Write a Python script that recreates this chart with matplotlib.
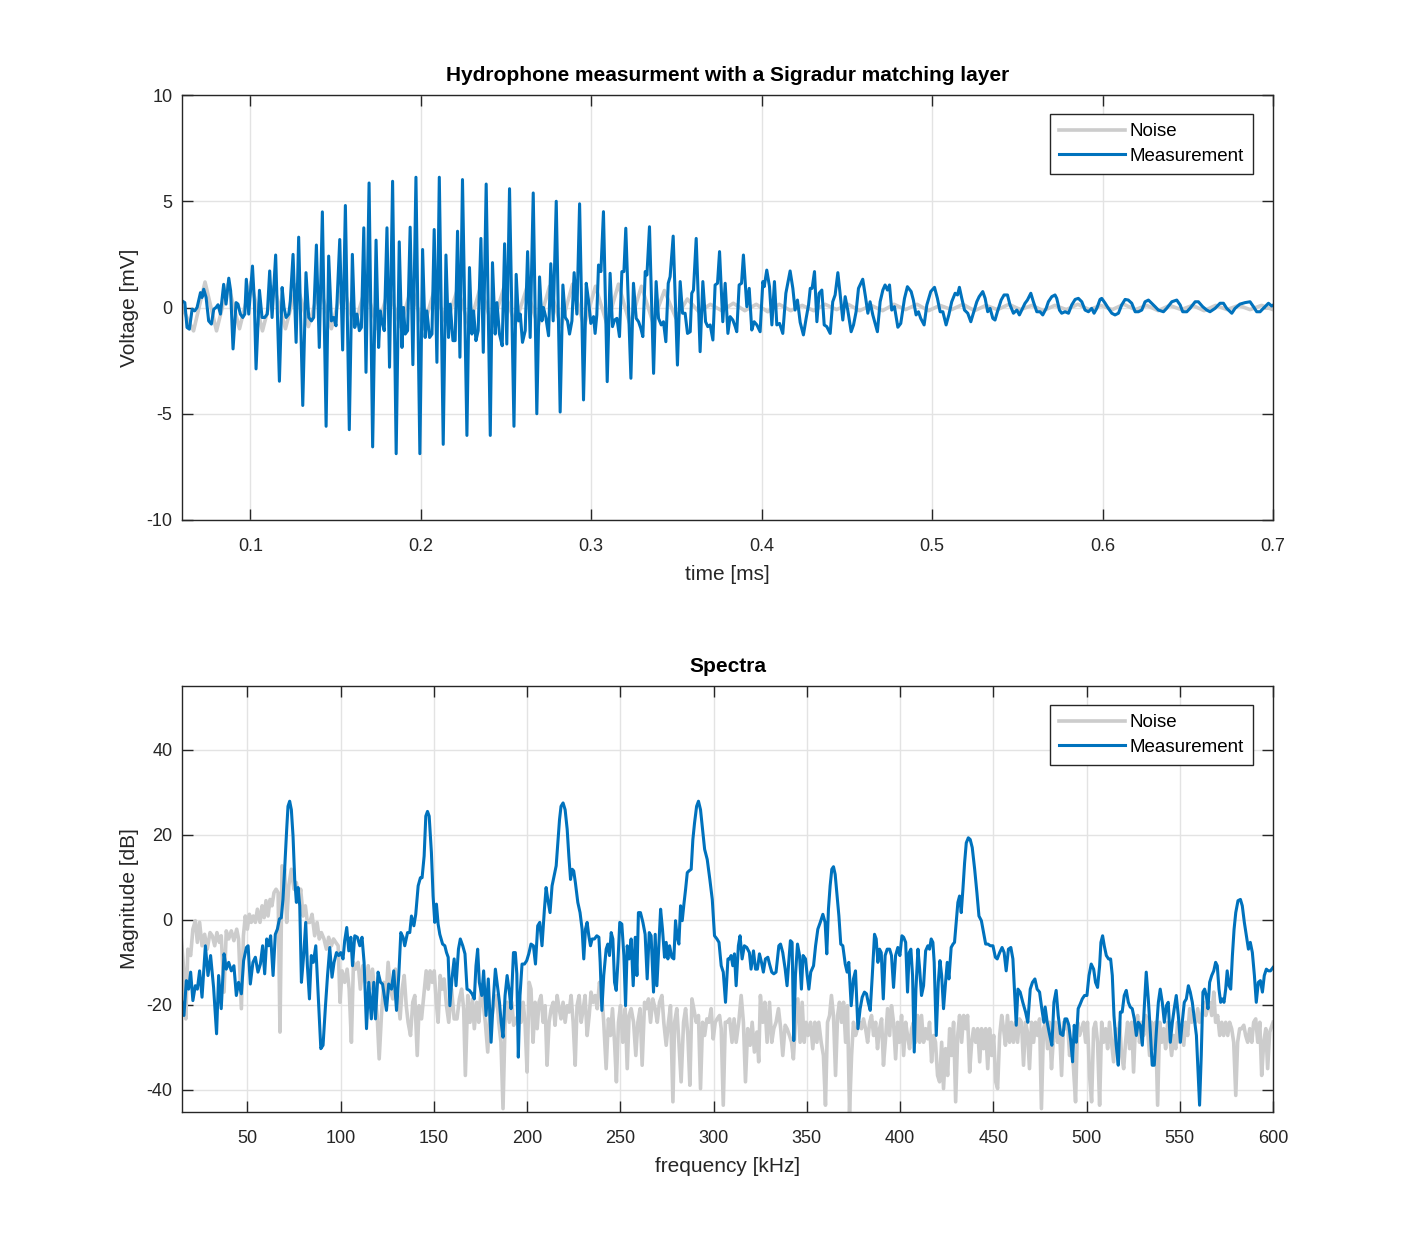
import numpy as np
import matplotlib
matplotlib.use('Agg')
import matplotlib.pyplot as plt

plt.rcParams['font.family'] = ['Liberation Sans', 'DejaVu Sans']
plt.rcParams['axes.unicode_minus'] = False

# time signal, measurement (t [ms], U [mV])
meas_pts = [
    (0.0600, 0.31), (0.0616, 0.23), (0.0629, -0.94), (0.0643, -1.02), (0.0659, -0.08), (0.0674, -0.16),
    (0.0688, 0.0), (0.0708, 0.70), (0.0717, 0.47), (0.0727, 0.86), (0.0741, 0.47), (0.0756, -0.63),
    (0.0772, -0.78), (0.0786, -0.08), (0.0799, 0.0), (0.0811, 0.13), (0.0825, -0.31), (0.0844, 1.09),
    (0.0858, 0.16), (0.0874, 1.38), (0.0885, 0.78), (0.0899, -1.95), (0.0917, 0.23), (0.0928, 0.16),
    (0.0942, -0.31), (0.0956, -0.47), (0.0968, -0.31), (0.0977, 1.33), (0.0991, -0.31), (0.1013, 1.95),
    (0.1024, 0.31), (0.1034, -2.89), (0.1054, 0.81), (0.1069, -0.47), (0.1085, -0.47), (0.1100, -0.31),
    (0.1114, 1.72), (0.1128, -0.47), (0.1149, 2.47), (0.1171, -3.47), (0.1187, 0.94), (0.1198, 0.0),
    (0.1210, -0.47), (0.1226, -0.31), (0.1235, 0.31), (0.1251, 2.5), (0.1269, -1.64), (0.1284, 3.31),
    (0.1308, -4.61), (0.1327, 1.64), (0.1343, -0.47), (0.1359, -0.63), (0.1372, -0.47), (0.1388, 2.94),
    (0.1405, -1.88), (0.1423, 4.5), (0.1445, -5.59), (0.1460, 2.42), (0.1476, -0.63), (0.1490, -0.47),
    (0.1503, -0.86), (0.1525, 3.2), (0.1542, -2.0), (0.1558, 4.8), (0.1581, -5.75), (0.1599, 2.5),
    (0.1613, -0.94), (0.1626, -0.31), (0.1640, -1.09), (0.1652, -0.94), (0.1666, 3.75), (0.1679, -3.05),
    (0.1697, 5.86), (0.1718, -6.56), (0.1738, 3.17), (0.1753, -1.88),
    (0.1763, -0.16), (0.1772, -0.63), (0.1786, -1.09), (0.1802, 3.75), (0.1817, -2.81), (0.1835, 5.94),
    (0.1856, -6.88), (0.1874, 3.09), (0.1890, -1.88), (0.1899, 0.0), (0.1909, -1.25), (0.1923, -1.09),
    (0.1938, 3.78), (0.1954, -2.69), (0.1972, 6.13), (0.1995, -6.88), (0.2011, 2.73), (0.2026, -1.41),
    (0.2036, -0.16), (0.2052, -1.41), (0.2066, -1.25), (0.2079, 3.67), (0.2095, -2.58), (0.2109, 6.13),
    (0.2132, -6.44), (0.2148, 2.47), (0.2163, -1.41), (0.2173, 0.16), (0.2189, -1.56), (0.2202, -1.56),
    (0.2216, 3.59), (0.2230, -2.34), (0.2245, 6.02), (0.2271, -6.02), (0.2286, 1.88), (0.2300, -1.25),
    (0.2310, -0.16), (0.2324, -1.56), (0.2337, -1.09), (0.2353, 3.25), (0.2367, -2.11), (0.2384, 5.81),
    (0.2408, -6.02), (0.2421, 2.11), (0.2437, -1.25), (0.2447, 0.23), (0.2462, -1.25), (0.2478, -1.8),
    (0.2492, 3.0), (0.2505, -1.72), (0.2521, 5.59), (0.2547, -5.59), (0.2560, 1.56), (0.2574, -0.63),
    (0.2584, -0.31), (0.2597, -1.64), (0.2613, -1.09), (0.2627, 2.63), (0.2642, -1.41), (0.2660, 5.39),
    (0.2681, -5.0), (0.2697, 1.44), (0.2711, -0.63), (0.2720, 0.0), (0.2734, -0.47), (0.2750, -1.33),
    (0.2763, 2.06), (0.2777, -0.63), (0.2795, 5.0), (0.2818, -4.92), (0.2834, 1.06), (0.2848, -0.47),
    (0.2861, -0.63), (0.2873, -1.25), (0.2887, -0.63), (0.2900, 1.64), (0.2916, -0.31), (0.2932, 4.88),
    (0.2955, -4.35), (0.2971, 1.14), (0.2984, 0.35), (0.2998, -0.75), (0.3014, -0.43), (0.3023, -1.22),
    (0.3033, -0.35), (0.3043, 2.0), (0.3057, 1.69), (0.3072, 4.51), (0.3094, -3.49), (0.3111, 1.61),
    (0.3125, -0.9), (0.3137, -0.59), (0.3151, -0.51), (0.3166, -1.37), (0.3180, 1.69), (0.3192, 1.69),
    (0.3203, 3.73), (0.3233, -3.33), (0.3248, 1.14), (0.3264, -0.51), (0.3278, -0.67), (0.3291, -0.98),
    (0.3303, -1.37), (0.3317, 1.69), (0.3327, 1.53), (0.3342, 3.8), (0.3366, -3.1), (0.3381, 1.22),
    (0.3395, -0.51), (0.3411, -0.82), (0.3424, -0.67), (0.3438, -1.61), (0.3452, 1.14), (0.3463, 1.45),
    (0.3481, 3.36), (0.3506, -2.71), (0.3522, 1.22), (0.3536, -0.27), (0.3551, -0.27), (0.3565, -1.22),
    (0.3581, -1.14), (0.3590, 0.67), (0.3600, 0.82), (0.3616, 3.25), (0.3639, -2.08), (0.3655, 1.22),
    (0.3671, -0.67), (0.3684, -0.9), (0.3698, -0.82), (0.3714, -1.53), (0.3727, 1.06), (0.3741, 1.14),
    (0.3753, 2.63), (0.3772, -0.67), (0.3786, 1.14), (0.3802, -1.22), (0.3815, -0.43), (0.3831, -0.59),
    (0.3845, -0.9), (0.3854, -1.14), (0.3868, 1.06), (0.3882, 1.14), (0.3893, 2.47), (0.3913, 0.04),
    (0.3927, 0.9), (0.3942, -1.06), (0.3956, -0.67), (0.3972, -0.82), (0.3991, -1.14), (0.4007, 1.22),
    (0.4015, 0.98), (0.4030, 1.76), (0.4046, 0.98), (0.4060, -0.82), (0.4075, 1.22), (0.4089, -0.82),
    (0.4105, -0.75), (0.4124, -1.22), (0.4142, 0.67), (0.4153, 1.14), (0.4167, 1.72), (0.4183, 0.9),
    (0.4196, -0.12), (0.4210, 0.35), (0.4226, -0.7),
    (0.4245, -1.29), (0.4261, -0.51), (0.4275, 0.12), (0.4285, 0.9), (0.4296, 0.9), (0.4310, 1.69),
    (0.4324, -0.67), (0.4337, 0.67), (0.4353, 0.82), (0.4367, -0.82), (0.4382, -0.9), (0.4402, -1.22),
    (0.4417, 0.27), (0.4431, 0.59), (0.4447, 1.64), (0.4460, 0.67), (0.4476, -0.59), (0.4490, 0.51),
    (0.4505, -0.12), (0.4525, -1.14), (0.4539, -0.82), (0.4554, -0.2), (0.4568, 0.9), (0.4582, 1.14),
    (0.4593, 1.33), (0.4609, 0.51), (0.4623, -0.27), (0.4636, 0.27), (0.4652, -0.35), (0.4679, -1.14),
    (0.4695, 0.27), (0.4711, 0.82), (0.4724, 1.06), (0.4738, 0.82), (0.4750, 1.06), (0.4763, -0.12),
    (0.4779, 0.04), (0.4799, -0.93), (0.4816, -0.75), (0.4838, 0.43), (0.4855, 0.98), (0.4877, 0.75),
    (0.4890, 0.35), (0.4906, -0.35), (0.4920, -0.2), (0.4933, -0.51), (0.4953, -0.82), (0.4969, 0.12),
    (0.4992, 0.75), (0.5014, 0.95), (0.5031, 0.43), (0.5047, -0.2), (0.5063, -0.2), (0.5082, -0.82),
    (0.5098, -0.35), (0.5115, 0.27), (0.5135, 0.67), (0.5149, 0.59), (0.5160, 0.95), (0.5174, 0.43),
    (0.5190, -0.12), (0.5209, -0.27), (0.5227, -0.67), (0.5242, -0.27), (0.5262, 0.27), (0.5276, 0.51),
    (0.5297, 0.75), (0.5311, 0.43), (0.5326, -0.2), (0.5340, -0.04), (0.5356, -0.51), (0.5369, -0.59),
    (0.5383, -0.2), (0.5405, 0.35), (0.5422, 0.59), (0.5442, 0.59), (0.5457, 0.12), (0.5477, -0.27),
    (0.5497, -0.12), (0.5512, -0.35), (0.5526, -0.12), (0.5545, 0.2), (0.5559, 0.35), (0.5579, 0.67),
    (0.5594, 0.27), (0.5614, -0.2), (0.5633, -0.2),
    (0.5649, -0.35), (0.5669, -0.04), (0.5682, 0.27), (0.5702, 0.51), (0.5721, 0.59), (0.5731, 0.43),
    (0.5747, -0.12), (0.5760, -0.27), (0.5780, -0.2), (0.5800, -0.27), (0.5819, 0.12), (0.5839, 0.38),
    (0.5858, 0.43), (0.5878, 0.27), (0.5897, -0.12), (0.5917, -0.2), (0.5936, -0.04), (0.5950, -0.27),
    (0.5966, -0.04), (0.5985, 0.38), (0.5995, 0.43), (0.6015, 0.2), (0.6034, -0.04), (0.6054, -0.27),
    (0.6073, -0.35), (0.6093, -0.27), (0.6112, 0.12), (0.6132, 0.38), (0.6151, 0.35), (0.6171, 0.2),
    (0.6191, -0.2), (0.6210, -0.2), (0.6230, -0.12), (0.6249, 0.27), (0.6269, 0.35), (0.6288, 0.2),
    (0.6308, 0.04), (0.6327, -0.12), (0.6357, -0.2), (0.6376, -0.04), (0.6406, 0.27), (0.6435, 0.35),
    (0.6455, 0.12), (0.6470, -0.2), (0.6494, -0.2), (0.6513, -0.04), (0.6543, 0.27), (0.6562, 0.27),
    (0.6587, 0.04), (0.6611, -0.12), (0.6630, -0.2), (0.6660, -0.04), (0.6689, 0.2), (0.6709, 0.2),
    (0.6728, -0.04), (0.6758, -0.27), (0.6777, -0.04), (0.6806, 0.16), (0.6836, 0.23), (0.6865, 0.27),
    (0.6885, 0.04), (0.6904, -0.2), (0.6924, -0.2), (0.6943, -0.04), (0.6973, 0.2), (0.6992, 0.07),
    (0.7002, 0.12),
]

# noise signal, sampled at its extrema, 0.06 ... 0.70 ms
noise_v = [
    0.0, -1.1, 1.2, -1.1, 1.1, -1.0, 1.2, -1.1, 1.0, -1.0, 1.1, -0.9, 1.0, -1.0, 1.1, -0.9, 1.0,
    -1.0, 0.9, -0.9, 1.0, -1.0, 0.9, -0.8, 0.9, -0.9, 1.0, -0.9, 0.9, -0.8, 0.9, -0.9, 1.0,
    -0.9, 1.1, -0.9, 1.0, -0.8, 1.1, -0.8, 1.0, -0.7, 0.8, -0.5, 0.4,
    -0.2, 0.15, -0.15, 0.2, -0.15, 0.15, -0.2, 0.15, -0.15, 0.1, -0.15, 0.15, -0.1, 0.15,
    -0.15, 0.1, -0.15, 0.15, -0.1, 0.15, -0.15, 0.1, -0.1, 0.15, -0.15, 0.1, -0.1, 0.15,
    -0.1, 0.1, -0.15, 0.1, -0.1, 0.15, -0.1, 0.1, -0.1, 0.15, -0.1, 0.1, -0.15, 0.1, -0.1,
    0.1, -0.15, 0.1, -0.1, 0.1, -0.1, 0.1, -0.1,
]

# spectrum of the measurement (f [kHz], dB)
spec_meas = [
    (14.6, -18.6), (16.0, -22.5), (17.3, -14.3), (18.5, -16.3), (19.6, -12.3), (20.8, -19.0), (22.1, -15.5),
    (23.2, -16.3), (24.4, -12.0), (25.7, -18.2), (27.5, -6.1), (28.9, -13.1), (30.3, -8.4), (31.9, -15.9),
    (33.5, -26.8), (34.6, -13.1), (36.0, -20.9), (37.5, -8.0), (38.7, -11.6), (40.0, -10.0), (41.4, -12.0),
    (42.8, -10.8), (44.1, -17.8), (45.3, -14.7), (46.8, -17.4), (48.0, -9.6), (49.5, -6.5), (50.4, -6.1),
    (51.6, -15.1), (53.0, -10.0), (54.3, -8.8), (55.7, -12.3), (57.0, -10.4), (58.2, -6.1), (59.3, -12.7),
    (60.4, -4.5), (61.4, -6.1), (62.5, -3.75), (63.8, -13.1), (65.0, -3.4), (66.1, -2.2), (67.2, 0.2),
    (68.2, 0.5), (69.1, 4.8), (70.0, 11.9), (71.1, 21.3), (71.8, 26.7), (72.7, 27.9), (73.6, 25.9),
    (74.5, 19.7), (75.4, 9.5), (76.3, 4.1), (77.2, 7.6), (78.1, 3.3), (79.0, -14.7), (80.2, -8.4),
    (81.3, -0.6), (82.2, -10.8), (83.3, -18.6), (84.3, -8.4), (85.4, -10.0), (86.7, -6.1), (87.9, -17.0),
    (89.4, -30.3), (90.6, -29.5), (91.9, -20.2), (93.0, -13.1), (94.2, -6.5), (95.4, -13.5), (96.5, -10.0),
    (97.8, -7.7), (99.0, -8.4), (100.1, -7.7), (101.3, -9.2), (102.2, -4.9), (103.3, -1.8), (104.4, -7.3),
    (105.5, -4.1), (106.4, -10.8), (107.6, -3.75), (109.0, -4.1), (110.3, -6.1), (111.5, -4.1), (112.6, -10.0),
    (113.9, -25.6), (115.1, -14.7), (116.5, -23.3), (117.8, -14.7), (118.7, -23.3), (120.1, -12.3),
    (121.4, -14.7), (122.5, -15.1), (123.7, -18.6), (124.6, -21.3), (125.8, -15.1), (127.3, -16.3),
    (128.5, -12.0), (130.0, -21.3), (131.2, -13.1), (132.3, -3.0), (133.5, -4.1), (134.4, -6.1), (135.9, -3.0),
    (137.1, -3.0), (138.0, 0.9), (139.3, -1.4), (140.3, 1.3), (141.6, 8.0), (142.8, 9.9), (143.7, 9.9),
    (144.8, 15.0), (145.7, 24.4), (146.6, 25.5), (147.5, 24.4), (148.7, 15.8), (149.6, 5.6), (150.5, -0.6),
    (151.4, 3.7), (152.3, -1.0), (153.2, -3.4), (154.7, -5.7), (155.9, -6.1), (156.8, -7.7), (157.7, -8.8),
    (158.6, -20.2), (159.8, -13.5), (160.9, -9.2),
    (161.9, -15.5), (163.2, -6.9), (164.2, -4.5), (165.5, -6.1), (166.7, -8.0), (167.8, -16.3), (169.1, -16.6),
    (170.5, -17.4), (171.7, -18.6), (172.6, -10.8), (173.5, -6.9), (174.4, -14.7), (175.7, -17.8), (176.7, -12.0),
    (178.0, -22.5), (179.2, -13.9), (180.7, -28.8), (181.8, -19.4), (183.0, -11.6), (184.3, -16.3), (185.2, -19.4),
    (186.1, -24.1), (187.1, -27.6), (188.2, -17.8), (189.3, -13.1), (190.5, -17.0), (191.4, -20.9), (192.7, -7.7),
    (193.7, -7.7), (194.5, -12.7), (195.3, -32.3), (196.2, -17.8), (197.3, -10.4), (198.6, -10.4), (199.8, -9.6),
    (200.9, -8.0), (202.1, -5.7), (203.4, -6.1), (204.5, -10.4), (205.7, -1.4), (206.8, -0.6), (208.0, -6.1),
    (209.3, 2.5), (210.2, 7.6), (211.1, 4.8), (212.3, 1.7), (213.4, 8.0), (214.3, 9.9), (215.6, 12.7),
    (216.5, 18.1), (217.4, 23.6), (218.2, 26.7), (219.3, 27.5), (220.4, 25.9), (221.5, 21.3), (222.4, 15.0),
    (223.3, 9.5), (224.2, 11.9), (225.0, 11.5), (225.9, 8.75), (227.2, 4.1), (228.4, 1.7), (229.5, -2.2),
    (230.4, -9.2), (231.3, -2.2), (232.2, -0.6), (233.1, -3.75), (234.0, -6.1), (234.9, -4.5), (236.1, -4.5),
    (237.4, -3.75), (238.5, -4.1), (239.2, -10.0), (240.1, -21.3), (241.1, -13.1), (242.4, -6.9), (243.3, -5.7),
    (244.2, -8.4), (245.1, -3.0), (246.0, -4.5), (246.9, -14.7), (247.8, -16.6), (248.7, -10.0), (249.7, -0.6),
    (250.8, -1.0), (251.9, -8.4), (252.8, -20.2), (253.7, -6.1), (254.7, -9.2), (255.8, -4.5), (256.9, -15.5),
    (258.0, -4.1), (258.9, -13.1), (259.7, 1.7), (260.8, 1.7), (262.1, -0.6), (263.3, -3.4), (264.4, -13.9),
    (265.5, -3.0), (266.5, -3.75), (267.8, -17.0), (268.7, -3.4), (269.6, -15.5), (270.7, -5.3), (271.6, 2.5),
    (272.6, -2.2), (273.7, -8.8), (274.6, -5.3), (275.5, -9.2), (276.4, -6.1), (277.6, -8.8), (278.7, -9.2),
    (279.6, -0.2), (280.5, -4.1), (281.4, -5.7), (282.3, 3.3), (283.2, -0.2), (284.1, 3.7), (285.0, 7.2),
    (285.9, 11.1), (286.8, 11.5), (288.0, 11.9), (288.9, 18.9), (289.8, 22.8), (290.9, 26.7), (291.9, 27.9),
    (293.0, 25.9), (294.1, 21.3), (295.2, 16.6), (296.6, 14.2), (298.0, 9.5), (299.3, 4.8), (300.5, -3.75),
    (301.8, -4.5), (302.9, -5.3), (304.1, -10.8), (305.2, -12.3), (306.4, -19.4), (307.7, -9.2),
    (308.5, -9.2), (309.4, -8.4), (310.3, -10.8), (311.2, -8.0), (312.1, -15.5), (313.3, -6.1), (314.2, -3.75),
    (315.3, -9.2), (316.5, -6.1), (317.8, -6.5), (319.2, -7.7), (320.1, -11.6), (321.4, -7.3), (322.5, -11.6),
    (323.5, -11.6), (324.6, -8.0), (325.7, -10.0), (326.7, -12.3), (327.8, -9.2), (329.1, -8.8), (330.0, -10.4),
    (331.2, -12.3), (332.3, -12.7), (333.5, -12.3), (335.0, -6.1), (335.9, -5.7), (337.1, -7.7), (338.4, -11.6),
    (339.4, -15.5), (340.3, -10.0), (341.2, -4.9), (342.1, -5.3), (343.0, -28.4), (343.9, -13.1), (345.0, -5.7),
    (346.1, -8.4), (347.1, -16.3), (348.0, -8.4), (349.3, -9.2), (350.2, -13.1), (351.1, -16.3), (352.1, -12.3),
    (353.6, -10.8), (354.7, -6.1), (355.9, -2.2), (357.2, -0.6), (358.6, 1.3), (359.8, -0.6), (360.7, -8.0),
    (361.6, 2.5), (362.5, 8.0), (363.4, 11.9), (364.3, 12.5), (365.2, 10.7), (366.1, 6.4), (367.2, 0.9),
    (368.2, -5.7), (369.3, -6.1), (370.6, -10.4), (371.6, -12.3), (372.5, -10.0), (373.8, -20.2), (375.0, -13.9),
    (376.1, -12.0), (377.4, -25.6), (378.6, -20.9), (379.7, -18.2), (380.9, -17.0), (382.0, -17.4), (382.9, -19.4),
    (384.0, -21.3), (385.1, -13.1), (386.3, -3.4), (387.2, -4.5), (388.1, -10.0), (389.0, -6.9), (389.9, -7.7),
    (391.0, -18.6), (392.0, -8.4), (393.1, -6.9), (394.4, -6.9), (395.4, -8.4), (396.5, -15.9), (397.6, -8.4),
    (398.8, -6.5), (399.9, -8.4), (401.0, -3.75), (401.9, -4.1), (403.0, -5.3), (404.0, -17.0), (404.9, -7.7),
    (405.8, -6.9), (406.7, -13.1), (407.6, -31.1), (408.5, -16.3), (409.6, -6.9), (410.5, -11.6), (411.5, -17.8),
    (412.6, -15.5), (413.7, -7.3), (414.9, -6.1), (415.8, -6.9), (416.7, -4.5), (417.6, -5.3), (418.3, -10.0),
    (419.4, -27.2), (420.5, -14.7), (421.4, -9.6), (422.3, -13.1), (423.3, -20.9), (424.4, -14.7), (425.3, -10.0),
    (426.2, -13.9), (427.4, -6.5), (428.4, -5.7), (429.2, -5.3), (430.1, -0.6), (431.0, 4.1), (431.9, 5.6),
    (432.8, 1.7), (433.7, 7.2), (434.6, 13.4), (435.5, 18.1), (436.6, 19.3), (437.6, 18.9), (438.7, 17.0),
    (440.0, 11.9), (441.2, 6.4), (442.3, 0.9), (443.6, -0.2), (444.8, -3.0), (445.9, -5.7), (447.1, -5.7),
    (448.4, -6.1), (449.8, -6.1), (451.1, -8.8), (452.1, -9.2), (453.4, -7.7),
    (454.7, -6.5), (455.8, -7.7), (456.9, -12.0), (458.1, -6.9), (459.4, -6.5), (460.5, -9.2), (461.4, -17.0),
    (462.3, -24.8), (463.2, -16.3), (464.4, -17.0), (465.8, -19.4), (467.3, -21.7), (468.5, -24.1), (469.8, -16.3),
    (471.0, -14.7), (472.3, -13.9), (473.5, -16.3), (474.8, -17.0), (476.0, -20.9), (477.1, -24.1), (477.8, -20.5),
    (478.9, -24.1), (480.1, -26.8), (481.4, -29.5), (482.5, -19.4), (483.7, -16.6), (484.8, -22.5), (486.0, -26.8),
    (487.3, -27.2), (488.4, -23.3), (489.4, -23.3), (490.5, -24.8), (491.6, -28.8), (492.5, -33.4), (493.4, -24.8),
    (494.5, -28.8), (495.5, -20.9), (496.6, -19.8), (497.7, -18.6), (498.9, -17.8), (500.2, -17.8), (501.3, -13.1),
    (502.5, -10.4), (503.8, -11.6), (504.8, -14.7), (505.9, -15.9), (507.0, -10.8), (507.7, -5.3), (508.6, -3.75),
    (509.5, -6.1), (510.6, -8.4), (511.8, -9.2), (512.9, -9.2), (513.8, -13.1), (514.7, -22.5), (515.9, -29.5),
    (517.0, -34.2), (518.1, -21.7), (519.1, -21.7), (520.2, -17.8), (521.3, -16.6), (522.4, -19.4), (523.4, -20.5),
    (524.5, -20.9), (525.6, -23.3), (526.7, -27.2), (527.7, -24.1), (528.8, -24.8), (529.9, -29.5), (531.0, -20.2),
    (532.0, -12.3), (533.1, -18.6), (534.2, -26.4), (535.2, -34.2), (536.3, -34.2), (537.4, -26.4), (538.5, -19.4),
    (539.5, -16.3), (540.6, -19.4), (541.7, -24.1), (542.8, -20.2), (543.8, -19.4), (544.9, -28.8), (546.0, -24.1),
    (547.0, -20.9), (548.1, -17.8), (549.2, -22.5), (550.3, -28.8), (551.3, -24.1), (552.4, -19.4), (553.5, -18.6),
    (554.6, -15.5), (555.6, -17.0), (556.7, -19.4), (557.8, -23.3), (558.9, -27.2), (559.9, -36.6), (560.6, -43.6),
    (561.5, -31.9), (562.4, -17.0), (563.3, -16.3), (564.2, -17.8), (565.1, -20.9), (566.0, -14.7), (567.1, -13.1),
    (568.2, -12.0), (569.2, -10.0), (570.1, -10.8), (571.0, -16.3), (571.9, -19.4), (572.8, -18.6), (573.7, -19.4),
    (574.6, -16.3), (575.4, -12.0), (576.4, -15.5), (577.3, -16.3), (578.2, -8.4), (579.1, -2.2), (580.0, 1.7),
    (581.2, 4.5), (582.5, 4.8), (583.5, 3.3), (584.6, -0.6), (585.7, -3.75), (586.8, -6.9), (587.8, -5.3),
    (588.9, -7.7), (590.0, -13.1), (591.0, -19.4), (592.1, -14.7), (593.2, -14.3), (594.3, -17.0), (595.3, -13.1),
    (596.4, -11.6), (597.5, -12.0), (598.6, -12.0), (600.0, -11.2),
]

# spectrum of the noise (f [kHz], dB)
spec_noise = [
    (14.6, -4.5), (16.0, -12.3), (17.0, -23.3), (18.1, -6.9), (19.6, -8.4), (20.8, -2.2), (22.1, -0.2),
    (23.2, -5.3), (24.4, -0.6), (25.7, -6.1), (27.1, -3.4), (28.5, -6.9), (30.0, -3.0), (31.2, -3.75),
    (32.5, -6.1), (33.7, -3.0), (35.0, -5.3), (36.0, -3.75), (37.5, -17.0), (38.7, -2.6), (40.0, -4.5),
    (41.4, -2.6), (42.8, -4.9), (44.3, -2.2), (45.3, -4.5), (46.8, -20.9), (47.9, -3.75), (48.9, 0.9),
    (50.0, -2.2), (51.1, 1.3), (52.1, -0.6), (53.2, 0.9), (54.3, -0.6), (55.4, 2.5), (56.8, -0.6),
    (57.9, 3.3), (59.0, 0.5), (60.0, 4.5), (61.1, 0.9), (62.2, 4.8), (63.2, 3.3), (64.3, 6.4), (65.4, 7.2),
    (66.5, 6.4), (67.5, -26.4), (68.6, 12.7), (70.0, 11.9), (71.1, -0.6), (72.2, 8.0), (73.6, 11.9),
    (75.0, 7.2), (76.3, 8.75), (77.5, 4.1), (78.6, 7.2), (79.9, 0.9), (81.1, 3.3), (82.2, -0.6), (83.5, -0.6),
    (84.7, 1.3), (86.1, -3.75), (87.4, -0.6), (88.6, -4.5), (89.7, -3.0), (91.1, -4.5), (92.4, -6.9),
    (93.6, -4.1), (95.1, -6.1), (96.2, -4.5), (97.4, -5.3), (98.7, -6.1), (99.7, -19.4), (100.8, -12.0),
    (102.2, -14.7), (103.5, -11.6), (104.6, -16.3), (105.8, -28.8), (106.9, -10.0), (108.0, -11.6),
    (109.4, -10.0), (110.6, -16.3), (111.9, -10.8), (113.3, -14.7), (114.8, -10.8), (115.8, -16.3),
    (117.1, -11.6), (118.3, -17.0), (119.6, -22.5), (120.7, -32.7), (121.9, -22.5), (123.2, -14.7),
    (124.4, -17.8), (125.5, -10.0), (126.7, -16.3), (128.0, -18.6), (129.4, -11.6), (130.7, -17.8),
    (131.9, -23.3), (133.0, -16.3), (134.1, -13.1), (135.2, -20.2), (136.2, -24.1), (137.5, -27.2),
    (138.7, -19.4), (139.8, -17.8), (141.1, -31.9), (142.1, -20.2), (143.4, -23.3), (144.6, -17.8),
    (145.9, -12.0), (147.0, -16.3), (148.0, -12.0), (149.1, -14.7), (150.2, -12.0), (151.3, -19.4),
    (152.3, -24.1), (153.4, -13.1), (154.5, -16.3), (155.5, -13.9), (156.8, -20.2), (158.0, -24.1),
    (159.5, -16.3), (160.9, -23.3),
    (162.4, -23.3), (163.7, -18.6), (164.9, -16.3), (166.0, -20.9), (166.9, -36.6), (168.2, -17.8),
    (169.4, -24.1), (170.7, -18.6), (171.7, -25.6), (173.0, -19.4), (174.1, -24.1), (175.3, -16.3),
    (176.6, -20.2), (177.6, -24.1), (178.9, -31.1), (180.1, -20.9), (181.2, -22.5), (182.5, -19.4),
    (183.7, -17.8), (184.8, -24.1), (186.0, -28.8), (187.1, -44.4), (188.2, -24.1), (189.3, -19.4),
    (190.5, -24.1), (191.8, -19.4), (192.8, -24.8), (194.1, -23.3), (195.3, -22.5), (196.8, -24.1),
    (197.9, -19.4), (198.9, -24.1), (200.0, -35.8), (201.1, -14.7), (202.1, -16.3), (203.2, -28.8),
    (204.3, -19.4), (205.4, -25.6), (206.4, -19.4), (207.5, -17.8), (208.6, -24.1), (209.7, -20.2),
    (210.7, -34.2), (211.8, -24.1), (212.9, -20.9), (214.0, -19.4), (215.0, -24.8), (216.1, -17.8),
    (217.2, -20.9), (218.2, -23.3), (219.3, -19.4), (220.4, -24.1), (221.5, -20.2), (222.5, -21.7),
    (223.6, -17.8), (224.7, -24.1), (225.8, -34.2), (226.8, -20.2), (227.9, -17.8), (229.0, -24.1),
    (230.1, -20.9), (231.1, -17.8), (232.2, -27.2), (233.3, -22.5), (234.3, -17.0), (235.4, -19.4),
    (236.5, -17.8), (237.6, -20.9), (238.8, -14.7), (240.1, -17.8), (241.1, -24.1), (242.4, -35.0),
    (243.6, -23.3), (244.7, -27.2), (245.8, -20.9), (246.9, -28.8), (247.9, -38.1), (249.0, -24.1),
    (250.1, -20.2), (251.3, -28.8), (252.6, -20.9), (253.7, -35.0), (254.7, -22.5), (255.8, -20.9),
    (257.1, -24.1), (258.3, -31.9), (259.4, -24.1), (260.6, -20.9), (261.7, -34.2), (263.0, -19.4),
    (264.0, -20.9), (265.1, -18.6), (266.2, -24.1), (267.4, -18.6), (268.7, -20.9), (269.8, -24.1),
    (271.0, -19.4), (272.3, -17.8), (273.3, -24.1), (274.6, -29.5), (275.8, -24.1), (276.9, -20.2),
    (278.2, -42.8), (279.1, -24.1), (280.3, -20.9), (281.4, -28.8), (282.6, -38.1), (283.9, -24.1),
    (285.0, -20.9), (286.2, -27.2), (287.3, -38.9), (288.4, -18.6), (289.4, -20.9), (290.7, -24.1),
    (291.9, -22.5), (293.0, -39.7), (294.1, -24.1), (295.2, -27.2), (296.4, -23.3), (297.5, -24.1),
    (298.7, -20.9), (299.8, -28.0), (300.9, -24.1), (301.9, -23.3), (303.2, -22.5), (304.1, -25.6),
    (305.2, -43.6), (306.3, -24.1), (307.3, -24.1),
    (308.6, -23.3), (309.9, -28.8), (311.0, -23.3), (312.1, -28.8), (313.5, -24.1), (314.8, -17.8),
    (316.0, -24.1), (317.1, -38.1), (318.3, -25.6), (319.6, -29.5), (320.7, -24.1), (321.9, -31.1),
    (323.2, -26.4), (324.2, -33.4), (325.1, -17.8), (326.4, -24.1), (327.5, -19.4), (328.7, -28.8),
    (330.0, -19.4), (331.2, -28.8), (332.3, -25.6), (333.5, -24.1), (334.8, -20.9), (336.0, -25.6),
    (337.1, -31.9), (338.4, -24.8), (339.4, -25.6), (340.7, -27.2), (341.8, -28.8), (342.8, -32.7),
    (343.9, -24.1), (345.2, -18.6), (346.4, -28.8), (347.5, -19.4), (348.6, -28.8), (349.6, -24.1),
    (350.7, -27.2), (352.0, -24.1), (353.2, -30.3), (354.3, -24.1), (355.4, -28.8), (356.4, -24.1),
    (357.7, -28.8), (358.9, -31.9), (360.0, -43.6), (361.1, -24.1), (362.2, -22.5), (363.2, -17.8),
    (364.3, -22.5), (365.4, -36.6), (366.5, -22.5), (367.5, -19.4), (368.6, -24.1), (369.7, -19.4),
    (370.8, -28.8), (371.8, -20.2), (372.9, -45.2), (374.0, -31.9), (375.0, -24.1), (376.1, -27.2),
    (377.2, -25.6), (378.3, -24.1), (379.3, -25.6), (380.4, -23.3), (381.5, -25.6), (382.6, -28.8),
    (383.7, -24.1), (384.7, -22.5), (385.8, -27.2), (386.9, -24.1), (387.9, -30.3), (389.0, -25.6),
    (390.1, -23.3), (391.1, -34.2), (392.2, -28.0), (393.3, -20.9), (394.4, -27.2), (395.4, -20.2),
    (396.5, -24.1), (397.6, -32.7), (398.7, -24.1), (399.7, -28.8), (400.8, -22.5), (401.9, -31.9),
    (403.0, -24.1), (404.0, -27.2), (405.1, -30.3), (406.2, -25.6), (407.2, -24.1), (408.3, -28.8),
    (409.4, -22.5), (410.5, -28.8), (411.5, -22.5), (412.6, -28.8), (413.7, -25.6), (414.8, -28.0),
    (415.8, -24.1), (416.9, -33.4), (418.0, -27.2), (419.0, -28.8), (420.1, -36.6), (421.2, -38.1),
    (422.3, -28.8), (423.3, -39.7), (424.4, -30.3), (425.5, -36.6), (426.6, -25.6), (427.6, -31.9),
    (428.7, -24.1), (429.8, -42.8), (430.9, -27.2), (431.9, -22.5), (433.0, -28.8), (434.1, -22.5),
    (435.2, -25.6), (436.2, -22.5), (437.3, -35.8), (438.4, -28.8), (439.4, -25.6), (440.5, -28.8),
    (441.6, -25.6), (442.7, -33.4), (443.7, -25.6), (444.8, -30.3), (445.9, -25.6), (447.0, -35.0),
    (448.0, -25.6), (449.1, -31.9), (450.2, -27.2), (451.3, -38.1), (452.3, -39.7), (453.4, -27.2),
    (454.5, -22.5), (455.5, -25.6),
    (456.5, -29.5), (457.6, -22.5), (458.7, -28.8), (459.7, -24.1), (460.8, -28.8), (461.9, -24.1),
    (463.0, -28.8), (464.0, -23.3), (465.1, -24.1), (466.2, -34.2), (467.3, -24.1), (468.3, -26.4),
    (469.4, -35.0), (470.5, -24.1), (471.6, -28.8), (472.6, -24.1), (473.7, -27.2), (474.8, -23.3),
    (475.8, -44.4), (476.9, -25.6), (478.0, -24.1), (479.1, -30.3), (480.1, -24.1), (481.2, -35.0),
    (482.3, -27.2), (483.4, -24.1), (484.4, -28.8), (485.5, -25.6), (486.6, -36.6), (487.7, -24.1),
    (488.7, -25.6), (489.8, -24.1), (490.9, -31.9), (492.0, -28.8), (493.0, -35.0), (494.1, -42.8),
    (495.2, -24.1), (496.2, -27.2), (497.3, -25.6), (498.4, -24.1), (499.5, -28.8), (500.5, -24.1),
    (501.6, -36.6), (502.7, -42.8), (503.8, -25.6), (504.8, -24.1), (505.9, -28.8), (507.0, -43.6),
    (508.1, -24.1), (509.1, -28.8), (510.2, -25.6), (511.3, -30.3), (512.3, -24.1), (513.4, -28.8),
    (514.5, -33.4), (515.6, -25.6), (516.6, -30.3), (517.7, -24.1), (518.8, -31.9), (519.9, -35.0),
    (520.9, -28.8), (522.0, -24.1), (523.1, -30.3), (524.2, -24.1), (525.2, -35.8), (526.3, -24.1),
    (527.4, -22.5), (528.4, -28.8), (529.5, -24.1), (530.6, -27.2), (531.7, -22.5), (532.7, -25.6),
    (533.8, -31.9), (534.9, -24.1), (536.0, -30.3), (537.0, -24.1), (538.1, -43.6), (539.2, -24.1),
    (540.3, -28.8), (541.3, -25.6), (542.4, -30.3), (543.5, -24.1), (544.5, -27.2), (545.6, -31.9),
    (546.7, -27.2), (547.8, -30.3), (548.8, -24.1), (549.9, -28.8), (551.0, -24.8), (552.1, -29.5),
    (553.1, -24.1), (554.2, -27.2), (555.3, -20.9), (556.4, -24.1), (557.4, -22.5), (558.5, -24.1),
    (559.6, -20.9), (560.6, -24.1), (561.7, -22.5), (562.8, -19.4), (563.9, -22.5), (564.9, -20.9),
    (566.0, -19.4), (567.1, -22.5), (568.2, -17.0), (569.2, -24.1), (570.3, -22.5), (571.4, -27.2),
    (572.5, -24.1), (573.5, -27.2), (574.6, -24.1), (575.7, -27.2), (576.7, -24.1), (577.8, -25.6),
    (578.9, -28.8), (580.0, -41.3), (581.0, -28.8), (582.1, -25.6), (583.2, -25.6), (584.3, -24.8),
    (585.3, -27.2), (586.4, -28.8), (587.5, -25.6), (588.6, -28.8), (589.6, -24.1), (590.7, -23.3),
    (591.8, -28.8), (592.9, -24.1), (593.9, -36.6), (595.0, -28.8), (596.1, -25.6), (597.1, -35.0),
    (598.2, -26.4), (600.0, -24.1),
]

blue = '#0072BD'
gray = '#CCCCCC'
txt = '#262626'


def style(ax):
    ax.grid(True, color='#E3E3E3', linewidth=1.0)
    ax.set_axisbelow(True)
    for s in ax.spines.values():
        s.set_color(txt)
        s.set_linewidth(1.0)
    ax.tick_params(direction='in', length=8, width=1.0, colors=txt, labelsize=13,
                   top=True, right=True)
    ax.tick_params(axis='x', pad=13)
    ax.tick_params(axis='y', pad=7)
    leg = ax.legend(loc='upper right', bbox_to_anchor=(0.982, 0.956), borderaxespad=0,
                    fancybox=False, framealpha=1, edgecolor=txt, fontsize=13.5,
                    handlelength=3.5, borderpad=0.5, labelspacing=0.4, handletextpad=0.28)
    leg.get_frame().set_linewidth(1.0)


fig = plt.figure(figsize=(14.07, 12.5), dpi=100)

# --- time signal ---
ax1 = fig.add_axes([0.1294, 0.584, 0.7754, 0.340])
noise_t = np.linspace(0.06, 0.70, len(noise_v))
mt, mv = zip(*meas_pts)
ax1.plot(noise_t, noise_v, color=gray, lw=2.6, label='Noise')
ax1.plot(mt, mv, color=blue, lw=2.2, label='Measurement')
ax1.set_xlim(0.06, 0.7)
ax1.set_ylim(-10, 10)
ax1.set_xticks([0.1, 0.2, 0.3, 0.4, 0.5, 0.6, 0.7])
ax1.set_yticks([-10, -5, 0, 5, 10])
ax1.set_xlabel('time [ms]', fontsize=15, color=txt, labelpad=7)
ax1.set_ylabel('Voltage [mV]', fontsize=15, color=txt, labelpad=5)
ax1.set_title('Hydrophone measurment with a Sigradur matching layer', fontsize=15,
              fontweight='bold', pad=10)
style(ax1)

# --- spectra ---
ax2 = fig.add_axes([0.1294, 0.1104, 0.7754, 0.3408])
nf, nd = zip(*spec_noise)
sf, sd = zip(*spec_meas)
ax2.plot(nf, nd, color=gray, lw=2.6, label='Noise')
ax2.plot(sf, sd, color=blue, lw=2.2, label='Measurement')
ax2.set_xlim(15, 600)
ax2.set_ylim(-45.2, 55)
ax2.set_xticks(np.arange(50, 601, 50))
ax2.set_yticks([-40, -20, 0, 20, 40])
ax2.set_xlabel('frequency [kHz]', fontsize=15, color=txt, labelpad=7)
ax2.set_ylabel('Magnitude [dB]', fontsize=15, color=txt, labelpad=5)
ax2.set_title('Spectra', fontsize=15, fontweight='bold', pad=10)
style(ax2)

fig.savefig('out.png', dpi=100, facecolor='white')
